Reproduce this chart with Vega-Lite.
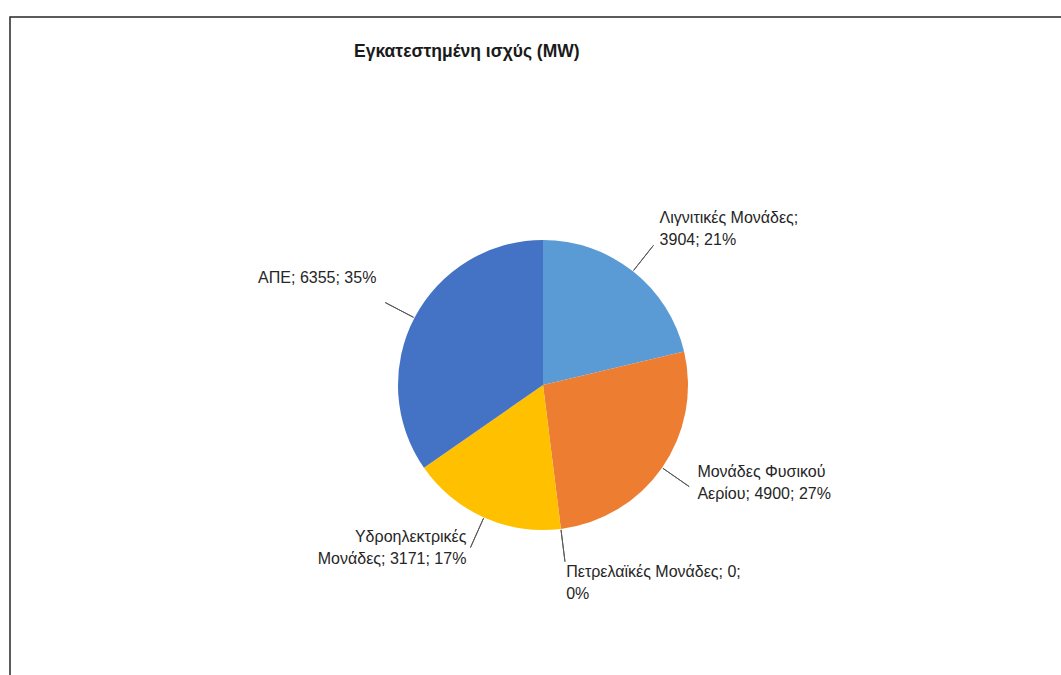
{
  "$schema": "https://vega.github.io/schema/vega-lite/v6.json",
  "width": 1066,
  "height": 736,
  "autosize": {"type": "none"},
  "padding": {"left": 10, "top": 17, "right": 0, "bottom": 0},
  "background": "white",
  "view": {"stroke": "#262626", "strokeWidth": 1.5, "fill": "white"},
  "config": {
    "view": {"stroke": "#262626", "strokeWidth": 1.5},
    "font": "Liberation Sans"
  },
  "title": {
    "text": "Εγκατεστημένη ισχύς (MW)",
    "anchor": "start",
    "frame": "group",
    "orient": "top",
    "offset": 0,
    "dx": 344,
    "dy": 57,
    "baseline": "alphabetic",
    "font": "Liberation Sans",
    "fontSize": 17.5,
    "fontWeight": "bold",
    "color": "#1a1a1a"
  },
  "data": {
    "values": [
      {"ord": 1, "category": "Λιγνιτικές Μονάδες", "value": 3904, "label": ["Λιγνιτικές Μονάδες;", "3904; 21%"]},
      {"ord": 2, "category": "Μονάδες Φυσικού Αερίου", "value": 4900, "label": ["Μονάδες Φυσικού", "Αερίου; 4900; 27%"]},
      {"ord": 3, "category": "Πετρελαϊκές Μονάδες", "value": 0, "label": ["Πετρελαϊκές Μονάδες; 0;", "0%"]},
      {"ord": 4, "category": "Υδροηλεκτρικές Μονάδες", "value": 3171, "label": ["Υδροηλεκτρικές", "Μονάδες; 3171; 17%"]},
      {"ord": 5, "category": "ΑΠΕ", "value": 6355, "label": ["ΑΠΕ; 6355; 35%"]}
    ]
  },
  "layer": [
    {
      "mark": {"type": "arc", "outerRadius": 145},
      "encoding": {
        "theta": {"field": "value", "type": "quantitative", "stack": true},
        "order": {"field": "ord", "type": "quantitative"},
        "color": {
          "field": "category",
          "type": "nominal",
          "legend": null,
          "scale": {
            "domain": ["Λιγνιτικές Μονάδες", "Μονάδες Φυσικού Αερίου", "Πετρελαϊκές Μονάδες", "Υδροηλεκτρικές Μονάδες", "ΑΠΕ"],
            "range": ["#5B9BD5", "#ED7D31", "#A5A5A5", "#FFC000", "#4472C4"]
          }
        }
      }
    },
    {
      "transform": [
        {"joinaggregate": [{"op": "sum", "field": "value", "as": "total"}]},
        {"stack": "value", "groupby": [], "sort": [{"field": "ord"}], "as": ["v0", "v1"]}
      ],
      "mark": {
        "type": "arc",
        "outerRadius": 178,
        "innerRadius": 146,
        "theta": {"expr": "PI*(datum.v0+datum.v1)/datum.total"},
        "theta2": {"expr": "PI*(datum.v0+datum.v1)/datum.total"},
        "fill": null,
        "stroke": "#595959",
        "strokeWidth": 1
      },
      "encoding": {}
    },
    {
      "transform": [
        {"joinaggregate": [{"op": "sum", "field": "value", "as": "total"}]},
        {"stack": "value", "groupby": [], "sort": [{"field": "ord"}], "as": ["v0", "v1"]}
      ],
      "mark": {
        "type": "text",
        "radius": 188,
        "dy": {"expr": "abs((datum.v0+datum.v1)/(2*datum.total) - 0.5) < 0.05 ? -8 : -20"},
        "fontSize": 16,
        "lineHeight": 22,
        "color": "#262626",
        "align": {"expr": "(datum.v0+datum.v1)/(2*datum.total) < 0.55 ? 'left' : 'right'"},
        "baseline": {"expr": "abs((datum.v0+datum.v1)/(2*datum.total) - 0.5) < 0.05 ? 'top' : 'middle'"}
      },
      "encoding": {
        "theta": {"field": "value", "type": "quantitative", "stack": true},
        "order": {"field": "ord", "type": "quantitative"},
        "text": {"field": "label"}
      }
    }
  ]
}
